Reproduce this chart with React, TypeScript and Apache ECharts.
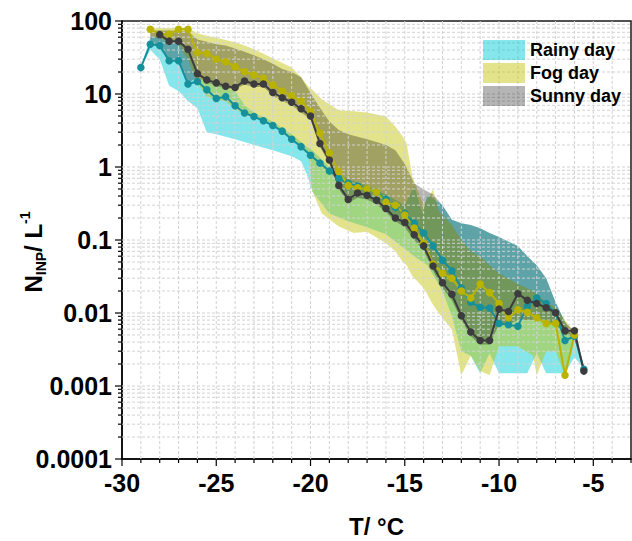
import React, { useEffect, useRef } from "react";
import * as echarts from "echarts";

const FONT = "'Liberation Sans', Arial, Helvetica, sans-serif";

const xMin = -30;
const xMax = -3;
const yMin = 0.0001;
const yMax = 100;
const xTickLabels = ["-30", "-25", "-20", "-15", "-10", "-5"];
const yTickLabels = ["0.0001", "0.001", "0.01", "0.1", "1", "10", "100"];
const seriesNames = ["Rainy day", "Fog day", "Sunny day"];

// ---- median lines ----
const rainyT = [-29, -28.5, -28, -27.5, -27, -26.5, -26, -25.5, -25, -24.5, -24, -23.5, -23, -22.5, -22, -21.5, -21, -20.5, -20, -19.5, -19, -18.5, -18, -17.5, -17, -16.5, -16, -15.5, -15, -14.5, -14, -13.5, -13, -12.5, -12, -11.5, -11, -10.5, -10, -9.5, -9, -8.5, -8, -7.5, -7, -6.5, -6, -5.5];
const rainyN = [23, 48, 46, 28.5, 28.5, 13.7, 14.8, 11.4, 8.7, 9.2, 6.9, 5.5, 4.9, 4.3, 3.7, 3.1, 2.4, 1.9, 1.45, 1.13, 0.88, 0.7, 0.6, 0.55, 0.49, 0.45, 0.36, 0.28, 0.23, 0.17, 0.125, 0.083, 0.053, 0.038, 0.022, 0.014, 0.012, 0.0117, 0.0072, 0.0069, 0.0066, 0.0123, 0.016, 0.0135, 0.01, 0.0042, 0.0048, 0.0017];

const fogT = [-28.5, -28, -27.5, -27, -26.5, -26, -25.5, -25, -24.5, -24, -23.5, -23, -22.5, -22, -21.5, -21, -20.5, -20, -19.5, -19, -18.5, -18, -17.5, -17, -16.5, -16, -15.5, -15, -14.5, -14, -13.5, -13, -12.5, -12, -11.5, -11, -10.5, -10, -9.5, -9, -8.5, -8, -7.5, -7, -6.5, -6];
const fogN = [77, 66, 66, 77, 77, 37, 36, 30, 27.7, 23.7, 20.3, 18.2, 16.4, 13.3, 11, 9.5, 8, 5.8, 2.9, 1.55, 0.87, 0.56, 0.52, 0.5, 0.45, 0.33, 0.3, 0.22, 0.146, 0.09, 0.047, 0.035, 0.03, 0.02, 0.016, 0.025, 0.019, 0.0135, 0.0086, 0.0111, 0.0102, 0.0086, 0.0072, 0.0072, 0.0014, 0.005];

const sunnyT = [-28, -27.5, -27, -26.5, -26, -25.5, -25, -24.5, -24, -23.5, -23, -22.5, -22, -21.5, -21, -20.5, -20, -19.5, -19, -18.5, -18, -17.5, -17, -16.5, -16, -15.5, -15, -14.5, -14, -13.5, -13, -12.5, -12, -11.5, -11, -10.5, -10, -9.5, -9, -8.5, -8, -7.5, -7, -6.5, -6, -5.5];
const sunnyN = [65, 53, 53, 41, 19, 15.6, 14.2, 12.8, 12.3, 15.1, 13.7, 13.7, 10.5, 8.9, 7.7, 6.3, 5, 2.1, 1.25, 0.56, 0.36, 0.44, 0.41, 0.35, 0.27, 0.2, 0.174, 0.118, 0.083, 0.044, 0.026, 0.018, 0.0092, 0.0055, 0.0042, 0.0042, 0.0113, 0.0105, 0.0184, 0.0149, 0.0135, 0.0118, 0.0101, 0.0057, 0.0057, 0.0016];

// ---- shaded ranges ----
const rainyBandT = [-29, -28.5, -28, -27.5, -27, -26.5, -26, -25.5, -25, -24.5, -24, -23.5, -23, -22, -21, -20.5, -20.2, -19.9, -19, -18, -17, -16, -15, -14.5, -14.05, -13.8, -13, -12.5, -12, -11.5, -11, -10.5, -10, -9, -8.5, -8, -7.5, -7, -6.5, -6, -5.5];
const rainyBandLo = [23, 40, 30, 13, 11, 8, 6.4, 3.0, 2.8, 2.6, 2.4, 2.2, 2.0, 1.7, 1.4, 1.2, 0.8, 0.46, 0.23, 0.18, 0.15, 0.12, 0.075, 0.06, 0.05, 0.045, 0.02, 0.009, 0.003, 0.0026, 0.0015, 0.0028, 0.0015, 0.0015, 0.0015, 0.0028, 0.0015, 0.0015, 0.0015, 0.0025, 0.0017];
const rainyBandHi = [23, 60, 62, 52, 52, 40, 17, 15, 13.5, 12, 11, 7, 5.6, 4.2, 2.8, 2.2, 1.9, 1.7, 1.0, 0.68, 0.56, 0.42, 0.3, 0.55, 0.23, 0.42, 0.3, 0.19, 0.17, 0.16, 0.145, 0.125, 0.11, 0.083, 0.06, 0.045, 0.03, 0.014, 0.0075, 0.004, 0.0017];

const fogBandT = [-28.5, -28, -27.5, -27, -26.5, -26, -25.5, -25, -24.5, -24, -23.5, -23, -22, -21, -20.5, -20.1, -19.9, -19.4, -18.5, -17.7, -17, -16, -15.5, -15.1, -14.9, -14.6, -14, -13.5, -13.2, -12.5, -12, -11.5, -11, -10.5, -10, -9, -8.2, -8, -7.5, -7, -6.5, -6];
const fogBandLo = [62, 58, 52, 48, 30, 14, 9.2, 8.5, 7.9, 6.2, 5.3, 4.8, 3.7, 2.5, 1.9, 1.5, 0.46, 0.23, 0.153, 0.125, 0.13, 0.09, 0.07, 0.05, 0.045, 0.032, 0.022, 0.013, 0.01, 0.0059, 0.0014, 0.0026, 0.0016, 0.0014, 0.0035, 0.0035, 0.0026, 0.0014, 0.003, 0.003, 0.0014, 0.005];
const fogBandHi = [80, 80, 80, 80, 80, 68, 63, 59, 55, 51, 46, 41, 31, 23, 17, 12.5, 11.4, 8.5, 6.0, 5.8, 5.6, 4.9, 3.6, 2.6, 2.1, 0.74, 0.3, 0.49, 0.25, 0.16, 0.1, 0.07, 0.06, 0.045, 0.035, 0.025, 0.02, 0.018, 0.014, 0.012, 0.008, 0.0055];

const sunnyBandT = [-28.5, -28, -27.5, -27, -26.5, -26, -25.5, -25, -24.5, -24, -23.5, -23, -22.5, -22, -21.5, -21, -20.5, -20, -19.5, -19, -18.5, -18, -17.5, -17, -16.5, -16, -15.5, -15, -14.5, -14, -13.5, -13, -12.5, -12, -11.5, -11, -10.5, -10, -9.5, -9, -8.5, -8, -7.5, -7, -6.5, -6, -5.5];
const sunnyBandLo = [48, 45, 28, 28, 14, 17, 14.5, 13, 12, 11.5, 13.5, 12.5, 12.5, 9.5, 8, 7, 5.6, 4.5, 1.9, 1.1, 0.5, 0.32, 0.38, 0.36, 0.31, 0.24, 0.18, 0.15, 0.1, 0.072, 0.038, 0.022, 0.015, 0.008, 0.0048, 0.0037, 0.0037, 0.007, 0.007, 0.008, 0.008, 0.008, 0.0075, 0.007, 0.005, 0.0048, 0.0015];
const sunnyBandHi = [74, 74, 74, 73, 72, 56, 52, 48, 46, 42, 38, 34, 30, 26, 22, 20, 17, 10.3, 6.5, 4.2, 3.2, 2.8, 2.6, 2.4, 2.2, 2.0, 1.7, 1.1, 0.6, 0.49, 0.42, 0.3, 0.19, 0.17, 0.16, 0.145, 0.125, 0.11, 0.095, 0.083, 0.06, 0.045, 0.03, 0.014, 0.0075, 0.0055, 0.0017];

const COLORS = {
  rainyLine: "#16909a",
  fogLine: "#bab300",
  sunnyLine: "#3c3c3e",
  rainyFill: "rgba(0,202,214,0.48)",
  fogFill: "rgba(192,192,0,0.45)",
  sunnyFill: "rgba(0,0,0,0.29)",
  grid: "#d2d2d2",
};

function makeBand(name: string, T: number[], lo: number[], hi: number[], color: string) {
  return {
    type: "custom",
    name,
    silent: true,
    itemStyle: { color },
    data: T.map((t, i) => [t, lo[i], hi[i]]),
    encode: { x: 0, y: [1, 2] },
    renderItem: (params: any, api: any) => {
      if (params.dataIndex !== 0) return;
      const pts: number[][] = [];
      for (let i = 0; i < T.length; i++) pts.push(api.coord([T[i], hi[i]]));
      for (let i = T.length - 1; i >= 0; i--) pts.push(api.coord([T[i], lo[i]]));
      return { type: "polygon", shape: { points: pts }, style: { fill: color, stroke: "none" } };
    },
  };
}

function makeLine(name: string, T: number[], N: number[], color: string) {
  return {
    type: "line",
    name,
    silent: true,
    data: T.map((t, i) => [t, N[i]]),
    symbol: "circle",
    symbolSize: 7.5,
    showSymbol: true,
    lineStyle: { color, width: 2 },
    itemStyle: { color },
  };
}

// grid positions (decoration only)
const xGridT: number[] = [];
for (let t = xMin; t <= xMax; t++) xGridT.push(t);
const yGridV: { v: number; major: boolean }[] = [];
for (let e = -4; e <= 2; e++) {
  for (let m = 1; m <= 9; m++) {
    const v = m * Math.pow(10, e);
    if (v > yMax * 1.0001) break;
    yGridV.push({ v, major: m === 1 });
  }
}

export default function App() {
  const ref = useRef<HTMLDivElement>(null);
  useEffect(() => {
    const chart = echarts.init(ref.current!, null, { renderer: "svg" });
    const option: any = {
      animation: false,
      backgroundColor: "#ffffff",
      grid: {
        left: 122,
        right: 1,
        top: 21,
        bottom: 82,
        outerBoundsMode: "none",
        containLabel: false,
        show: true,
        borderColor: "#1a1a1a",
        borderWidth: 1.5,
        backgroundColor: "transparent",
      },
      legend: {
        orient: "vertical",
        left: 478,
        top: 35,
        itemWidth: 42,
        itemHeight: 20,
        itemGap: 3,
        selectedMode: false,
        textStyle: { fontFamily: FONT, fontWeight: "bold", fontSize: 18, color: "#000" },
        data: [
          { name: seriesNames[0], icon: "rect", itemStyle: { color: COLORS.rainyFill } },
          { name: seriesNames[1], icon: "rect", itemStyle: { color: COLORS.fogFill } },
          { name: seriesNames[2], icon: "rect", itemStyle: { color: COLORS.sunnyFill } },
        ],
      },
      xAxis: {
        type: "value",
        min: xMin,
        max: xMax,
        interval: 1,
        axisLine: { show: true, onZero: false, lineStyle: { color: "#000", width: 1.5 } },
        axisTick: { show: false },
        splitLine: { show: false },
        axisLabel: {
          fontFamily: FONT,
          fontWeight: "bold",
          fontSize: 25,
          color: "#000",
          margin: 11,
          formatter: (v: number) => {
            const s = String(Math.round(v));
            return xTickLabels.indexOf(s) >= 0 ? s : "";
          },
        },
        name: "T/ °C",
        nameLocation: "middle",
        nameGap: 55,
        nameMoveOverlap: false,
        nameTextStyle: { fontFamily: FONT, fontWeight: "bold", fontSize: 24, color: "#000" },
      },
      yAxis: {
        type: "log",
        logBase: 10,
        min: yMin,
        max: yMax,
        splitNumber: 6,
        axisLine: { show: true, onZero: false, lineStyle: { color: "#000", width: 1.5 } },
        axisTick: { show: false },
        splitLine: { show: false },
        axisLabel: {
          fontFamily: FONT,
          fontWeight: "bold",
          fontSize: 25,
          color: "#000",
          margin: 10,
          formatter: (v: number) => {
            const k = Math.round(Math.log10(v)) + 4;
            return yTickLabels[k] ?? "";
          },
        },
        name: "{a|N}{b|INP}{a|/ L}{c|-1}",
        nameLocation: "middle",
        nameRotate: 90,
        nameGap: 74,
        nameMoveOverlap: false,
        nameTextStyle: {
          fontFamily: FONT,
          fontWeight: "bold",
          fontSize: 24,
          color: "#000",
          padding: [0, 24, 0, 0],
          rich: {
            a: { fontFamily: FONT, fontWeight: "bold", fontSize: 24, color: "#000", lineHeight: 30 },
            b: { fontFamily: FONT, fontWeight: "bold", fontSize: 14, color: "#000", verticalAlign: "bottom" },
            c: { fontFamily: FONT, fontWeight: "bold", fontSize: 14, color: "#000", verticalAlign: "top" },
          },
        },
      },
      series: [
        makeBand(seriesNames[0], rainyBandT, rainyBandLo, rainyBandHi, COLORS.rainyFill),
        makeLine("Rainy median", rainyT, rainyN, COLORS.rainyLine),
        makeBand(seriesNames[1], fogBandT, fogBandLo, fogBandHi, COLORS.fogFill),
        makeLine("Fog median", fogT, fogN, COLORS.fogLine),
        makeBand(seriesNames[2], sunnyBandT, sunnyBandLo, sunnyBandHi, COLORS.sunnyFill),
        {
          type: "custom",
          name: "xgrid",
          silent: true,
          data: xGridT.map((t) => [t, yMin]),
          encode: { x: 0, y: 1 },
          renderItem: (params: any, api: any) => {
            const cs = params.coordSys;
            const t = api.value(0);
            const x = api.coord([t, yMin])[0];
            const bottom = cs.y + cs.height;
            const children: any[] = [];
            if (t > xMin && t < xMax) {
              children.push({
                type: "line",
                shape: { x1: x, y1: cs.y, x2: x, y2: bottom },
                style: { stroke: COLORS.grid, lineWidth: 1, lineDash: [3, 2] },
              });
            }
            const major = Math.round(t) % 5 === 0;
            children.push({
              type: "line",
              shape: { x1: x, y1: bottom, x2: x, y2: bottom + (major ? 7 : 4) },
              style: { stroke: "#000", lineWidth: 1.2 },
            });
            return { type: "group", children };
          },
        },
        {
          type: "custom",
          name: "ygrid",
          silent: true,
          data: yGridV.map((g) => [xMin, g.v, g.major ? 1 : 0]),
          encode: { x: 0, y: 1 },
          renderItem: (params: any, api: any) => {
            const cs = params.coordSys;
            const v = api.value(1);
            const major = api.value(2) === 1;
            const y = api.coord([xMin, v])[1];
            const children: any[] = [];
            if (v > yMin * 1.01 && v < yMax * 0.99) {
              children.push({
                type: "line",
                shape: { x1: cs.x, y1: y, x2: cs.x + cs.width, y2: y },
                style: { stroke: COLORS.grid, lineWidth: 1, lineDash: [3, 2] },
              });
            }
            children.push({
              type: "line",
              shape: { x1: cs.x - (major ? 7 : 4), y1: y, x2: cs.x, y2: y },
              style: { stroke: "#000", lineWidth: 1.2 },
            });
            return { type: "group", children };
          },
        },
        makeLine("Sunny median", sunnyT, sunnyN, COLORS.sunnyLine),
      ],
    };
    chart.setOption(option);
    return () => chart.dispose();
  }, []);
  return <div ref={ref} style={{ position: "fixed", left: 0, top: 0, width: 632, height: 541 }} />;
}
